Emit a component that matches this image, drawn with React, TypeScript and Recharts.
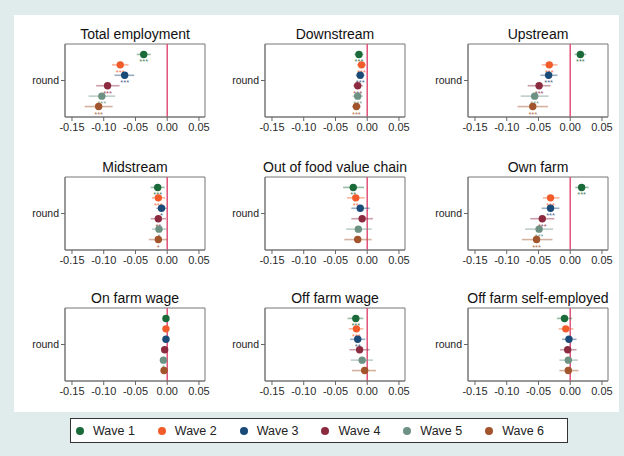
import React from "react";
import {
  ScatterChart,
  Scatter,
  XAxis,
  YAxis,
  ErrorBar,
  ReferenceLine,
  ReferenceArea,
} from "recharts";

const waveNames = ["Wave 1", "Wave 2", "Wave 3", "Wave 4", "Wave 5", "Wave 6"];
const waveColors = ["#1b6b3a", "#f25c2a", "#1a4b78", "#8c2b40", "#6d9284", "#a2542c"];

const panelTitles = [
  "Total employment",
  "Downstream",
  "Upstream",
  "Midstream",
  "Out of food value chain",
  "Own farm",
  "On farm wage",
  "Off farm wage",
  "Off farm self-employed",
];

const xTicks = [-0.15, -0.1, -0.05, 0, 0.05];

// point estimates, one row per panel, one column per wave
const coefs = [
  [-0.037, -0.074, -0.067, -0.094, -0.103, -0.108],
  [-0.013, -0.009, -0.011, -0.015, -0.015, -0.017],
  [0.016, -0.033, -0.034, -0.049, -0.056, -0.059],
  [-0.015, -0.014, -0.009, -0.014, -0.013, -0.014],
  [-0.022, -0.018, -0.011, -0.008, -0.014, -0.015],
  [0.018, -0.031, -0.031, -0.044, -0.049, -0.053],
  [-0.002, -0.002, -0.002, -0.004, -0.006, -0.005],
  [-0.018, -0.017, -0.015, -0.012, -0.008, -0.004],
  [-0.009, -0.007, -0.002, -0.004, -0.003, -0.003],
];

const ciLow = [
  [-0.048, -0.087, -0.083, -0.112, -0.124, -0.13],
  [-0.02, -0.016, -0.018, -0.022, -0.023, -0.024],
  [0.007, -0.045, -0.047, -0.067, -0.078, -0.083],
  [-0.026, -0.024, -0.017, -0.026, -0.024, -0.029],
  [-0.038, -0.032, -0.025, -0.025, -0.033, -0.036],
  [0.008, -0.043, -0.045, -0.063, -0.071, -0.076],
  [-0.005, -0.005, -0.005, -0.007, -0.01, -0.008],
  [-0.031, -0.029, -0.027, -0.028, -0.026, -0.024],
  [-0.021, -0.018, -0.013, -0.016, -0.017, -0.017],
];

const ciHigh = [
  [-0.026, -0.061, -0.052, -0.075, -0.082, -0.086],
  [-0.006, -0.002, -0.004, -0.007, -0.007, -0.01],
  [0.025, -0.02, -0.02, -0.031, -0.034, -0.035],
  [-0.004, -0.003, -0.001, -0.002, -0.001, 0.0],
  [-0.005, -0.004, 0.004, 0.009, 0.007, 0.007],
  [0.029, -0.017, -0.017, -0.025, -0.027, -0.028],
  [0.001, 0.001, 0.001, -0.001, -0.002, -0.002],
  [-0.006, -0.006, -0.003, 0.004, 0.009, 0.014],
  [0.003, 0.005, 0.01, 0.01, 0.012, 0.013],
];

const stars = [
  ["***", "***", "***", "***", "***", "***"],
  ["***", "***", "***", "***", "***", "***"],
  ["***", "***", "***", "***", "***", "***"],
  ["***", "***", "*", "**", "*", "*"],
  ["**", "**", "", "", "", ""],
  ["***", "***", "***", "***", "***", "***"],
  ["", "", "", "", "*", ""],
  ["***", "***", "**", "", "", ""],
  ["", "", "", "", "", ""],
];

// plot-box placement of the 3x3 grid
const colLeft = [65, 265, 468];
const rowTop = [44, 177, 308];
const BOX_W = 140;
const BOX_H = 73;
const AXIS_W = 55;
const X_DOMAIN: [number, number] = [-0.161, 0.0595];
const FONT = "'Liberation Sans', Arial, Helvetica, sans-serif";

function Dot(props: any) {
  const { cx, cy, fill, payload } = props;
  if (cx == null || cy == null) return null;
  return (
    <g>
      <circle cx={cx} cy={cy} r={3.7} fill={fill} />
      {payload.stars ? (
        <text
          x={cx}
          y={cy + 10}
          textAnchor="middle"
          fontSize={7.5}
          fill={fill}
          fillOpacity={0.85}
          fontFamily={FONT}
        >
          {payload.stars}
        </text>
      ) : null}
    </g>
  );
}

function Panel({ p }: { p: number }) {
  const left = colLeft[p % 3];
  const top = rowTop[Math.floor(p / 3)];
  return (
    <>
      <div
        style={{
          position: "absolute",
          left: left - 40,
          width: BOX_W + 80,
          top: top - 18,
          fontSize: 14,
          lineHeight: "16px",
          textAlign: "center",
          color: "#111",
          fontFamily: FONT,
          whiteSpace: "nowrap",
        }}
      >
        {panelTitles[p]}
      </div>
      <div style={{ position: "absolute", left: left - AXIS_W, top: top - 5 }}>
        <ScatterChart
          width={AXIS_W + BOX_W + 5}
          height={5 + BOX_H + 25}
          margin={{ top: 5, right: 5, bottom: 0, left: 0 }}
        >
          <XAxis
            type="number"
            dataKey="x"
            domain={X_DOMAIN}
            allowDataOverflow
            ticks={xTicks}
            tickFormatter={(v: number) => v.toFixed(2)}
            tick={{ fontSize: 11, fill: "#2a2a2a", fontFamily: FONT }}
            tickSize={4}
            tickLine={{ stroke: "#666" }}
            axisLine={{ stroke: "#777" }}
            height={25}
          />
          <YAxis
            type="number"
            dataKey="y"
            domain={[0, 7]}
            reversed
            ticks={[3.5]}
            tickFormatter={() => "round"}
            tick={{ fontSize: 10.5, fill: "#222", fontFamily: FONT }}
            tickSize={4}
            tickLine={{ stroke: "#666" }}
            axisLine={{ stroke: "#777" }}
            width={AXIS_W}
          />
          <ReferenceArea
            x1={X_DOMAIN[0]}
            x2={X_DOMAIN[1]}
            y1={0}
            y2={7}
            fill="none"
            stroke="#777"
            strokeWidth={1}
          />
          <ReferenceLine x={0} stroke="#e0527a" strokeWidth={1.5} />
          {waveNames.map((w, i) => (
            <Scatter
              key={w}
              name={w}
              data={[
                {
                  x: coefs[p][i],
                  y: i + 1,
                  err: [coefs[p][i] - ciLow[p][i], ciHigh[p][i] - coefs[p][i]],
                  stars: stars[p][i],
                },
              ]}
              fill={waveColors[i]}
              shape={Dot}
              isAnimationActive={false}
            >
              <ErrorBar
                dataKey="err"
                direction="x"
                width={0}
                stroke={waveColors[i]}
                strokeOpacity={0.45}
                strokeWidth={1.6}
              />
            </Scatter>
          ))}
        </ScatterChart>
      </div>
    </>
  );
}

export default function App() {
  return (
    <div
      style={{
        position: "absolute",
        left: 0,
        top: 0,
        width: 624,
        height: 456,
        background: "#dfeceb",
        fontFamily: FONT,
      }}
    >
      <div
        style={{
          position: "absolute",
          left: 14,
          top: 15,
          width: 605,
          height: 397,
          background: "#fff",
        }}
      />
      {panelTitles.map((t, p) => (
        <Panel key={t} p={p} />
      ))}
      <div
        style={{
          position: "absolute",
          left: 70,
          top: 418,
          width: 491,
          height: 23,
          border: "1px solid #333",
          background: "#fff",
          display: "flex",
          alignItems: "center",
          paddingLeft: 5,
          boxSizing: "content-box",
        }}
      >
        {waveNames.map((w, i) => (
          <div key={w} style={{ width: 84, display: "flex", alignItems: "center" }}>
            <span
              style={{
                width: 8,
                height: 8,
                borderRadius: 4,
                background: waveColors[i],
                marginRight: 9,
                display: "inline-block",
              }}
            />
            <span style={{ fontSize: 12.5, color: "#222" }}>{w}</span>
          </div>
        ))}
      </div>
    </div>
  );
}
